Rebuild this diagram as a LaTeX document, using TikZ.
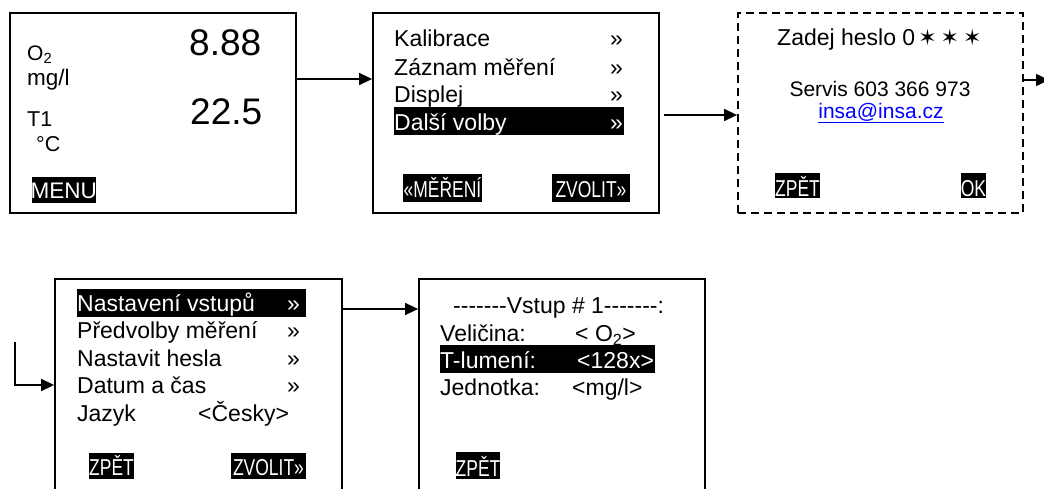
\documentclass[tikz,border=0pt]{standalone}
\usepackage{fontspec}
\setmainfont{Liberation Sans}[Ligatures=TeXOff]
\newfontfamily\narrowfont{Liberation Sans}[FakeStretch=0.76,Ligatures=TeXOff]
\newfontfamily\symfont{DejaVu Sans}
\usetikzlibrary{arrows.meta}
\definecolor{linkblue}{RGB}{0,0,255}
\tikzset{
  screen/.style={draw=black, line width=1.8pt, minimum width=286pt, minimum height=200pt, inner sep=0pt},
  dscreen/.style={screen, dash pattern=on 8pt off 5pt},
  lowscreen/.style={screen, minimum height=231pt},
  txt/.style={anchor=base west, inner sep=0pt, font=\fontsize{23}{23}\selectfont},
  wtxt/.style={txt, text=white},
  btn/.style={anchor=base, inner sep=0pt, text=white, font=\narrowfont\fontsize{23}{23}\selectfont},
  conn/.style={line width=1.5pt, -{Triangle[length=13pt,width=12pt]}},
  hl/.style={fill=black}
}
\begin{document}
\begin{tikzpicture}[x=1pt,y=-1pt]
\useasboundingbox (0,0) rectangle (1044,488);
\clip (0,0) rectangle (1044,488);
\fill[white] (0,0) rectangle (1044,488);

% ---------- screens ----------
\node[screen] (s1) at (153,113) {};
\node[screen] (s2) at (516,113) {};
\node[dscreen, minimum width=285pt] (s3) at (880.5,113) {};
\node[lowscreen, minimum width=287pt] (s4) at (198.5,394.5) {};
\node[lowscreen] (s5) at (562,394.5) {};

% ---------- screen 1 ----------
\node[txt, font=\fontsize{21}{21}\selectfont] (o2) at (27,60) {O\textsubscript{2}};
\node[txt, font=\fontsize{22.5}{22.5}\selectfont] (mgl) at (27,85) {mg/l};
\node[txt, font=\fontsize{21.5}{21.5}\selectfont] (t1) at (27,126.7) {T1};
\node[txt, font=\fontsize{21.5}{21.5}\selectfont] (degc) at (36,151.7) {°C};
\node[txt, font=\fontsize{37}{37}\selectfont] (v1) at (189,55) {8.88};
\node[txt, font=\fontsize{37}{37}\selectfont] (v2) at (190,124) {22.5};
\fill[hl] (31.7,176.7) rectangle (95.7,203.3);
\node[anchor=base, inner sep=0pt, text=white, font=\fontsize{22.5}{22.5}\selectfont] (menu) at (63.7,198.5) {MENU};

% ---------- screen 2 ----------
\node[txt] (k1) at (394,46.7) {Kalibrace};
\node[txt] (k1r) at (610,46.7) {»};
\node[txt] (k2) at (394,75) {Záznam měření};
\node[txt] (k2r) at (610,75) {»};
\node[txt] (k3) at (394,102.7) {Displej};
\node[txt] (k3r) at (610,102.7) {»};
\fill[hl] (394,107) rectangle (624,135);
\node[wtxt] (k4) at (394,130) {Další volby};
\node[wtxt] (k4r) at (610,130) {»};
\fill[hl] (403,174) rectangle (482,202);
\node[btn] (b2a) at (442.5,197.5) {«MĚŘENÍ};
\fill[hl] (552,174) rectangle (630,202);
\node[btn] (b2b) at (591,197.5) {ZVOLIT»};

% ---------- screen 3 ----------
\node[txt] (pw) at (777,45.7) {Zadej heslo 0{\symfont\fontsize{22}{22}\selectfont\hspace{3pt}✶\hspace{4pt}✶\hspace{4pt}✶}};
\node[anchor=base, inner sep=0pt, font=\fontsize{21}{21}\selectfont] (serv) at (880,96) {Servis 603 366 973};
\node[anchor=base, inner sep=0pt, text=linkblue, font=\fontsize{21}{21}\selectfont] (mail) at (881,118) {\underline{insa@insa.cz}};
\fill[hl] (775,173.3) rectangle (820,198.3);
\node[btn] (b3a) at (797.5,196.5) {ZPĚT};
\fill[hl] (961,173.3) rectangle (986,198.3);
\node[btn] (b3b) at (973.5,196.5) {OK};

% ---------- screen 4 ----------
\fill[hl] (77,289) rectangle (306,317);
\node[wtxt] (m1) at (77,311) {Nastavení vstupů};
\node[wtxt] (m1r) at (287,311) {»};
\node[txt] (m2) at (77,338.5) {Předvolby měření};
\node[txt] (m2r) at (287,338.5) {»};
\node[txt] (m3) at (77,366) {Nastavit hesla};
\node[txt] (m3r) at (287,366) {»};
\node[txt] (m4) at (77,393.5) {Datum a čas};
\node[txt] (m4r) at (287,393.5) {»};
\node[txt] (m5) at (77,421.5) {Jazyk};
\node[txt] (m5r) at (198,421.5) {<Česky>};
\fill[hl] (89,453) rectangle (134,478.5);
\node[btn] (b4a) at (111.5,475.5) {ZPĚT};
\fill[hl] (231,453) rectangle (306,478.5);
\node[btn] (b4b) at (268.5,475.5) {ZVOLIT»};

% ---------- screen 5 ----------
\node[txt] (i0) at (453,313.3) {-------Vstup \# 1-------:};
\node[txt] (i1) at (440,341.7) {Veličina:};
\node[txt] (i1r) at (575,341.7) {< O\textsubscript{2}>};
\fill[hl] (440,345) rectangle (655,373);
\node[wtxt] (i2) at (440,368.3) {T-lumení:};
\node[wtxt] (i2r) at (577,368.3) {<128x>};
\node[txt] (i3) at (440,395) {Jednotka:};
\node[txt] (i3r) at (572,395) {<mg/l>};
\fill[hl] (456,452) rectangle (500,479);
\node[btn] (b5a) at (478,476) {ZPĚT};

% ---------- connectors ----------
\coordinate (c3) at (1049,80);
\coordinate (c4) at (15,342);
\draw[conn] (s1.east |- 0,79) -- (s2.west |- 0,79);
\draw[conn] ([xshift=4pt]s2.east |- 0,115) -- (s3.west |- 0,115);
\draw[conn] (s3.east |- c3) -- (c3);
\draw[conn] (c4) |- (s4.west |- 0,385);
\draw[conn] (s4.east |- 0,309) -- (s5.west |- 0,309);
\end{tikzpicture}
\end{document}
